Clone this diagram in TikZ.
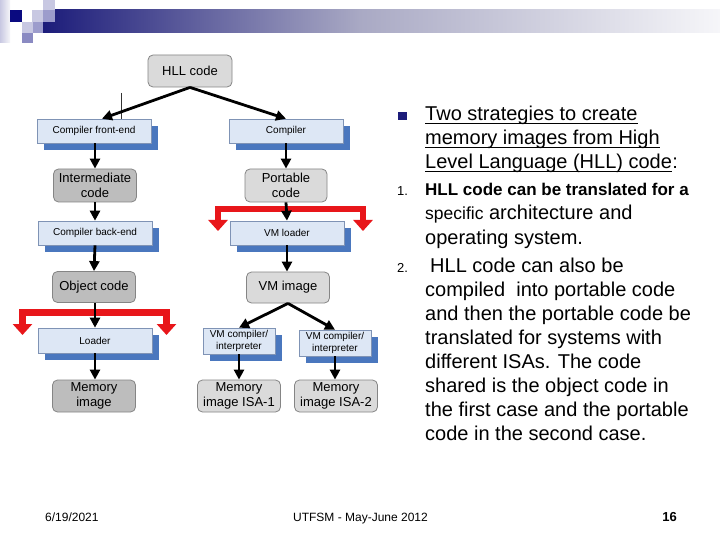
\documentclass[tikz,border=0pt]{standalone}
\usepackage{fontspec}
\setmainfont{Liberation Sans}
\usetikzlibrary{arrows.meta,shadows}
\definecolor{navy}{HTML}{1C1C7A}
\definecolor{midband}{HTML}{A9A9C4}
\definecolor{endband}{HTML}{F6F6F9}
\definecolor{sqdark}{HTML}{0A0A80}
\definecolor{sqlight}{HTML}{C8C8E2}
\definecolor{sqmid}{HTML}{9C9CCC}
\definecolor{sqmid2}{HTML}{8A8AC2}
\definecolor{lblue}{HTML}{DDE7F5}
\definecolor{bborder}{HTML}{7F93B5}
\definecolor{sblue}{HTML}{4A77BE}
\definecolor{lgrey}{HTML}{DADADA}
\definecolor{dgrey}{HTML}{BDBDBD}
\definecolor{gborder}{HTML}{858585}
\definecolor{bred}{HTML}{E8161A}
\tikzset{
  bluebox/.style={draw=bborder, line width=0.6pt, fill=lblue, minimum width=114pt,
    minimum height=24pt, inner sep=0pt, align=center, font=\fontsize{10}{11.5}\selectfont,
    drop shadow={shadow xshift=7pt, shadow yshift=-7pt, fill=sblue, opacity=1}},
  smallblue/.style={bluebox, minimum width=72pt, minimum height=26pt},
  greybox/.style={draw=gborder, line width=0.8pt, fill=lgrey, rounded corners=5pt,
    minimum width=83pt, minimum height=32pt, inner sep=0pt, align=center,
    font=\fontsize{13}{15.5}\selectfont},
  darkbox/.style={greybox, fill=dgrey},
  arr/.style={line width=2.8pt, -{Triangle[width=10pt,length=10pt]}},
  redbr/.style={line width=6.5pt, draw=bred, line join=miter,
    {Triangle[width=19pt,length=11pt]}-{Triangle[width=19pt,length=11pt]}},
  txt/.style={anchor=base west, inner sep=0pt, font=\fontsize{20}{24}\selectfont},
  numtxt/.style={anchor=base west, inner sep=0pt, font=\fontsize{13}{15}\selectfont},
  foot/.style={anchor=base, inner sep=0pt, font=\fontsize{12}{14}\selectfont}
}
\begin{document}
\begin{tikzpicture}[x=1pt,y=-1pt]
\useasboundingbox (0,0) rectangle (720,540);
\fill[white] (0,0) rectangle (720,540);
% banner
\shade[left color=navy, right color=midband] (43,10) rectangle (360,33);
\shade[left color=midband, right color=endband] (359.5,10) rectangle (720,33);
\shade[left color=sqlight, right color=endband] (0,0) rectangle (10,43);
\fill[sqdark] (10,10) rectangle (22,22);
\fill[sqlight] (32,10) rectangle (43,22);
\fill[sqlight] (43,0) rectangle (55,10);
\fill[sqmid] (43,10) rectangle (55,22);
\fill[sqlight] (22,22) rectangle (33,33);
\fill[sqmid] (33,22) rectangle (43,33);
\fill[sqmid2] (22,33) rectangle (33,43);

% nodes
\node[greybox, minimum width=84pt] (hll) at (190,71) {HLL code};
\node[bluebox] (fe) at (94,131) {Compiler front-end};
\node[bluebox] (comp) at (286,131) {Compiler};
\node[darkbox, minimum height=33pt] (inter) at (95,185.5) {Intermediate\\code};
\node[greybox, minimum width=82pt, minimum height=33pt] (port) at (286,185.5) {Portable\\code};
\node[bluebox] (be) at (95,233) {Compiler back-end};
\node[bluebox] (vml) at (287,233) {VM loader};
\node[darkbox, minimum height=31pt] (obj) at (94,287) {Object code};
\node[greybox, minimum height=31pt] (vmi) at (288,287.5) {VM image};
\node[bluebox, minimum height=25pt] (ld) at (95,340.5) {Loader};
\node[smallblue] (vc1) at (239,341) {VM compiler/\\interpreter};
\node[smallblue] (vc2) at (335,343) {VM compiler/\\interpreter};
\node[darkbox] (mem) at (94,396) {Memory\\image};
\node[greybox] (mem1) at (239,396) {Memory\\image ISA-1};
\node[greybox] (mem2) at (336,396) {Memory\\image ISA-2};

% red brackets
\coordinate (ra) at (22.5,335);
\coordinate (rb) at (166.5,335);
\coordinate (rc) at (218,231);
\coordinate (rd) at (363,231);
\draw[redbr] (ra) -- (22.5,312.5) -- (166.5,312.5) -- (rb);
\draw[redbr] (rc) -- (218,209) -- (363,209) -- (rd);

% stray thin line
\coordinate (stray) at (121,93);
\draw[line width=0.7pt, black!80] (stray) -- (stray |- fe.north);

% arrows
\draw[arr] (hll.south) -- ([xshift=8pt]fe.north);
\draw[arr] (hll.south) -- (comp.north);
\draw[arr] (fe.south -| inter.north) -- (inter.north);
\draw[arr] (comp.south) -- (port.north);
\draw[arr] (inter.south) -- (be.north);
\draw[arr] (port.south) -- (vml.north);
\draw[arr] (be.south) -- (obj.south |- obj.north);
\draw[arr] (vml.south) -- (vmi.north -| vml.south);
\draw[arr] (obj.south -| ld.north) -- (ld.north);
\draw[arr] (ld.south) -- (mem.north -| ld.south);
\draw[arr] (vmi.south) -- (vc1.north);
\draw[arr] (vmi.south) -- (vc2.north);
\draw[arr] (vc1.south) -- (mem1.north -| vc1.south);
\draw[arr] (vc2.south) -- (mem2.north -| vc2.south);

% right text
\fill[navy] (398,112) rectangle (407,120);
\node[txt] (h1) at (425,121) {Two strategies to create};
\node[txt] (h2) at (425,145) {memory images from High};
\node[txt] (h3) at (425,169) {Level Language (HLL) code};
\node[txt] (h3c) at (h3.base east) {:};
\foreach \n in {h1,h2,h3}
  \draw[line width=1.3pt] ([yshift=-2.3pt]\n.base west) -- ([yshift=-2.3pt]\n.base east);

\node[numtxt] (n1) at (397,196) {1.};
\node[txt, font=\fontsize{17}{20}\selectfont\bfseries] (i1a) at (425,196) {HLL code can be translated for a};
\node[txt] (i1b) at (425,220) {{\fontsize{17.5}{20}\selectfont specific} architecture and};
\node[txt] (i1c) at (425,244) {operating system.};
\node[numtxt] (n2) at (397,272) {2.};
\node[txt] (i2a) at (430,272) {HLL code can also be};
\node[txt] (i2b) at (425,296) {compiled \ into portable code};
\node[txt] (i2c) at (425,320) {and then the portable code be};
\node[txt] (i2d) at (425,344) {translated for systems with};
\node[txt] (i2e) at (425,368) {different ISAs. The code};
\node[txt] (i2f) at (425,392) {shared is the object code in};
\node[txt] (i2g) at (425,416) {the first case and the portable};
\node[txt] (i2h) at (425,440) {code in the second case.};

% footer
\node[foot, anchor=base west] (f1) at (45,521) {6/19/2021};
\node[foot] (f2) at (360.5,521) {UTFSM - May-June 2012};
\node[foot, anchor=base east, font=\fontsize{13}{15}\selectfont\bfseries] (f3) at (677,521) {16};
\end{tikzpicture}
\end{document}
